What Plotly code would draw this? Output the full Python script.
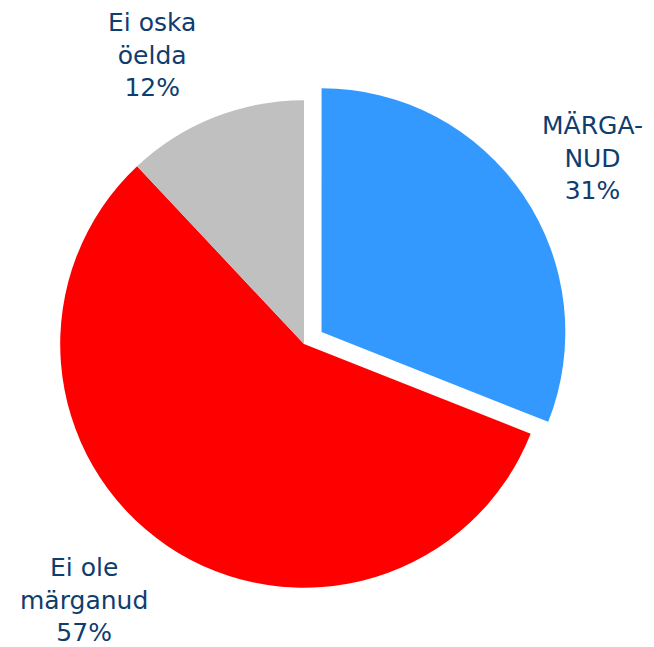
import plotly.graph_objects as go

# Survey answer shares (percent)
labels = ["MÄRGA-<br>NUD", "Ei ole<br>märganud", "Ei oska<br>öelda"]
values = [31, 57, 12]
colors = ["#3399FF", "#FF0000", "#C0C0C0"]
pulls = [0.087, 0, 0]

# label anchor points (paper coords)
label_x = [0.906, 0.128, 0.232]
label_y = [0.756, 0.073, 0.915]

W, H = 654, 647
cx, cy, half = 304, 344, 265

fig = go.Figure(
    go.Pie(
        labels=labels,
        values=values,
        marker=dict(colors=colors, line=dict(width=0)),
        pull=pulls,
        sort=False,
        direction="clockwise",
        rotation=0,
        textinfo="none",
        hoverinfo="label+percent",
        domain=dict(
            x=[(cx - half) / W, (cx + half) / W],
            y=[(H - cy - half) / H, (H - cy + half) / H],
        ),
    )
)

total = sum(values)
for lab, v, x, y in zip(labels, values, label_x, label_y):
    fig.add_annotation(
        x=x, y=y, xref="paper", yref="paper",
        text=f"{lab}<br>{round(100 * v / total)}%",
        showarrow=False, xanchor="center", yanchor="middle", align="center",
        borderpad=0,
        font=dict(family="Verdana, DejaVu Sans", size=25, color="#0F3D6E"),
    )

fig.update_layout(
    width=W, height=H,
    margin=dict(l=0, r=0, t=0, b=0),
    paper_bgcolor="white", plot_bgcolor="white",
    showlegend=False,
)

fig.write_html("out.html")
